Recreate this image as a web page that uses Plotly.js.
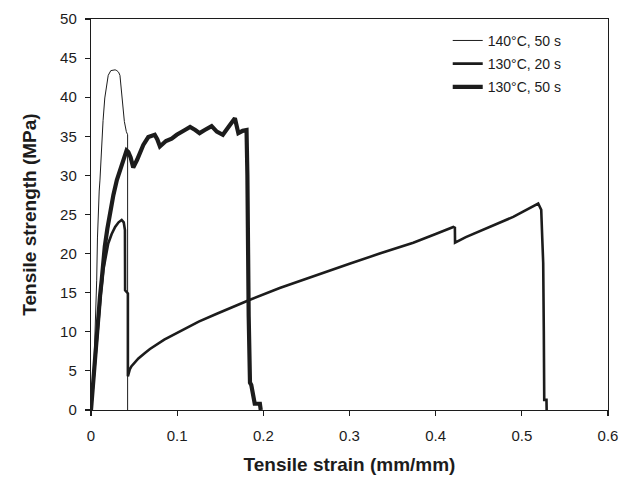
<!DOCTYPE html>
<html>
<head>
<meta charset="utf-8">
<script src="https://cdn.plot.ly/plotly-3.0.1.min.js"></script>
<style>html,body{margin:0;padding:0;background:#fff;}#chart{width:624px;height:480px;}</style>
</head>
<body>
<div id="chart"></div>
<script>
// Series names
const seriesNames = ["140°C, 50 s", "130°C, 20 s", "130°C, 50 s"];

// 140°C, 50 s (thin)
const strain140_50 = [0, 0.0015, 0.0027, 0.0035, 0.0046, 0.0055, 0.0066, 0.0075, 0.0085, 0.0095, 0.0104, 0.012, 0.014, 0.016, 0.018, 0.020, 0.023, 0.026, 0.028, 0.030, 0.032, 0.0336, 0.0346, 0.0356, 0.0372, 0.0387, 0.041, 0.0425, 0.0425];
const stress140_50 = [0, 2, 3.8, 6, 9.4, 12, 16.6, 22, 26.5, 28, 29.4, 33, 37, 39.9, 41.5, 42.8, 43.4, 43.5, 43.5, 43.4, 43.2, 42.8, 41.5, 40.3, 38, 36.9, 35.6, 35.2, 0];

// 130°C, 20 s (medium)
const strain130_20 = [0, 0.003, 0.006, 0.0085, 0.0115, 0.0143, 0.017, 0.020, 0.024, 0.028, 0.032, 0.0356, 0.038, 0.0394, 0.0396, 0.0415, 0.0428, 0.0428, 0.045, 0.047, 0.055, 0.0626, 0.0684, 0.085, 0.107, 0.125, 0.146, 0.165, 0.1845, 0.219, 0.26, 0.30, 0.335, 0.374, 0.40, 0.4205, 0.4223, 0.4225, 0.435, 0.459, 0.490, 0.519, 0.5225, 0.5237, 0.5248, 0.5255, 0.526, 0.5286, 0.5288];
const stress130_20 = [0, 4, 8, 11.5, 15, 17.9, 19.7, 21.3, 22.5, 23.4, 24, 24.3, 24, 23, 15.3, 15.1, 14.9, 4.3, 5.2, 5.6, 6.6, 7.3, 7.8, 9.0, 10.3, 11.3, 12.3, 13.2, 14.1, 15.6, 17.2, 18.7, 20.0, 21.4, 22.5, 23.4, 23.3, 21.4, 22.1, 23.2, 24.7, 26.4, 25.6, 22, 18.8, 10, 1.3, 1.3, 0];

// 130°C, 50 s (thick)
const strain130_50 = [0, 0.002, 0.0045, 0.0065, 0.0085, 0.0105, 0.0124, 0.014, 0.016, 0.019, 0.022, 0.026, 0.030, 0.034, 0.0375, 0.0413, 0.0433, 0.046, 0.049, 0.0535, 0.0607, 0.0665, 0.074, 0.077, 0.080, 0.087, 0.0936, 0.0995, 0.109, 0.115, 0.121, 0.126, 0.132, 0.14, 0.146, 0.153, 0.161, 0.167, 0.171, 0.176, 0.1805, 0.1815, 0.183, 0.1845, 0.186, 0.187, 0.189, 0.190, 0.196, 0.197];
const stress130_50 = [0, 3, 6.5, 9.5, 12.4, 14.6, 16.6, 18.8, 20.9, 23.2, 25.2, 27.5, 29.4, 30.8, 31.8, 33.2, 33.0, 32.3, 31.0, 32.0, 33.9, 34.9, 35.2, 34.6, 33.7, 34.4, 34.7, 35.2, 35.8, 36.2, 35.8, 35.4, 35.8, 36.3, 35.6, 35.2, 36.4, 37.3, 35.4, 35.7, 35.8, 30, 12, 3.5, 3.2, 2.5, 1.5, 0.8, 0.8, 0];

const xTicks = [0, 0.1, 0.2, 0.3, 0.4, 0.5, 0.6];
const xTickText = ["0", "0.1", "0.2", "0.3", "0.4", "0.5", "0.6"];
const yTicks = [0, 5, 10, 15, 20, 25, 30, 35, 40, 45, 50];

const ink = "#1c1c1c";
const fontFam = "'Liberation Sans', Arial, sans-serif";

const traces = [
  {x: strain140_50, y: stress140_50, name: seriesNames[0], legendgroup: "a", mode: "lines", line: {color: ink, width: 1}},
  {x: strain130_20, y: stress130_20, name: seriesNames[1], legendgroup: "b", mode: "lines", line: {color: ink, width: 2.6}},
  {x: strain130_50, y: stress130_50, name: seriesNames[2], legendgroup: "c", mode: "lines", line: {color: ink, width: 4.2}}
];

const axisCommon = {
  showgrid: false, zeroline: false, showline: true, mirror: true,
  linecolor: ink, linewidth: 1.2, ticks: "outside", ticklen: 5, tickwidth: 1.2, tickcolor: ink,
  tickfont: {family: fontFam, size: 15, color: ink}
};

const layout = {
  width: 624, height: 480,
  margin: {l: 91, r: 16, t: 19, b: 70},
  paper_bgcolor: "#fff", plot_bgcolor: "#fff",
  font: {family: fontFam, color: ink},
  showlegend: true,
  legend: {x: 0.69, y: 0.985, xanchor: "left", yanchor: "top", bgcolor: "rgba(0,0,0,0)",
           font: {family: fontFam, size: 14, color: ink}, tracegroupgap: 2, itemwidth: 30},
  xaxis: Object.assign({}, axisCommon, {
    range: [0, 0.6], tickvals: xTicks, ticktext: xTickText, ticklabelstandoff: 7,
    title: {text: "Tensile strain (mm/mm)", font: {family: fontFam, size: 19, color: ink, weight: "bold"}, standoff: 14}
  }),
  yaxis: Object.assign({}, axisCommon, {
    range: [0, 50], tickvals: yTicks, ticklabelstandoff: 5,
    title: {text: "Tensile strength (MPa)", font: {family: fontFam, size: 19, color: ink, weight: "bold"}, standoff: 18}
  })
};

Plotly.newPlot("chart", traces, layout, {staticPlot: true, displayModeBar: false});
</script>
</body>
</html>
